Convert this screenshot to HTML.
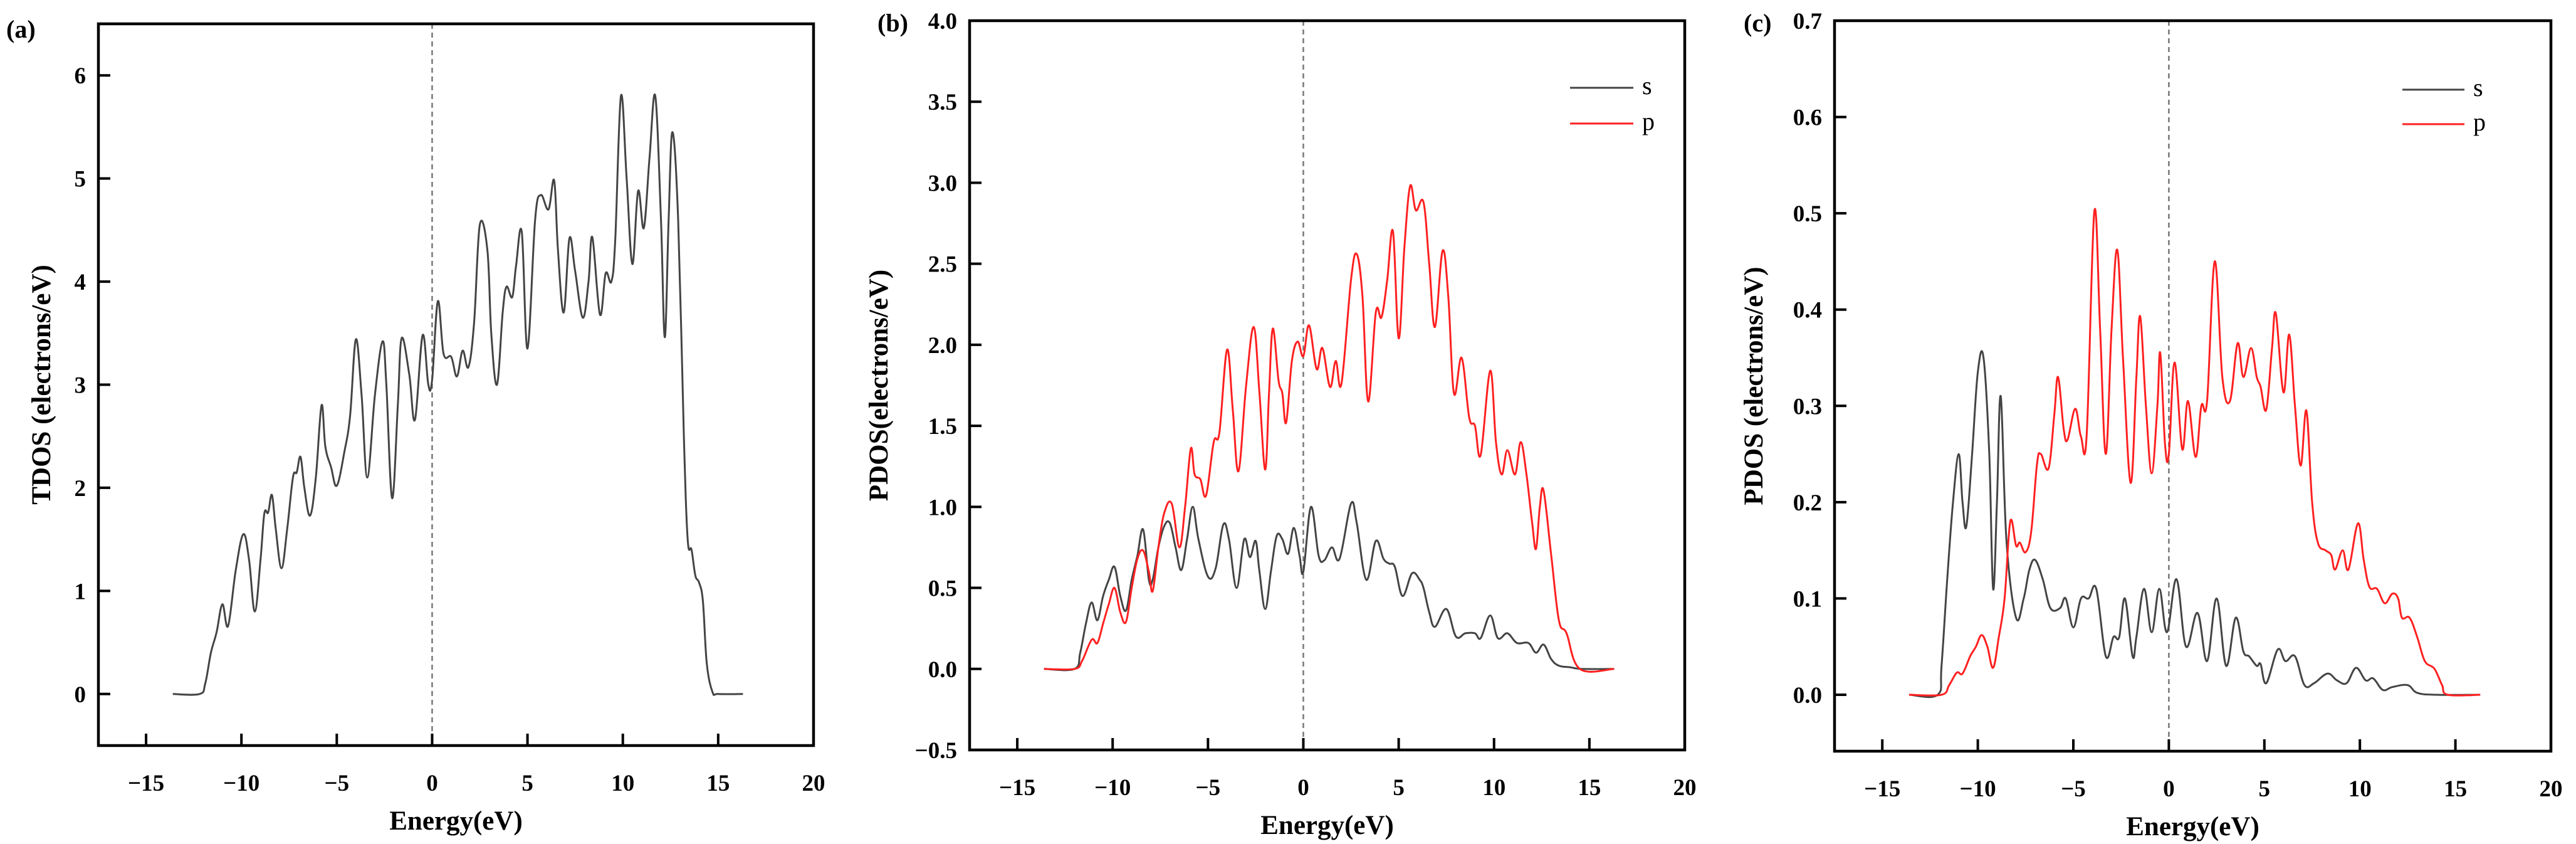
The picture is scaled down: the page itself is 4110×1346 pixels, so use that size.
<!DOCTYPE html>
<html><head><meta charset="utf-8"><style>
html,body{margin:0;padding:0;background:#fff;}
svg{display:block;}
text{font-family:"Liberation Serif",serif;font-weight:bold;fill:#000;}
</style></head><body>
<svg id="fig" width="4110" height="1346" viewBox="0 0 4110 1346" xmlns="http://www.w3.org/2000/svg"></svg>
<script>
// ---- data ----
const xTicks = [-15,-10,-5,0,5,10,15,20];
const yTicksA = [0,1,2,3,4,5,6];
const yTicksB = [-0.5,0.0,0.5,1.0,1.5,2.0,2.5,3.0,3.5,4.0];
const yTicksC = [0.0,0.1,0.2,0.3,0.4,0.5,0.6,0.7];
const legendLabels = ["s","p"];

const tdosE = [-13.6,-12.2,-11.9,-11.6,-11.3,-11.0,-10.7,-10.3,-9.9,-9.6,-9.3,-9.0,-8.8,-8.6,-8.4,-8.2,-7.9,-7.6,-7.3,-7.1,-6.9,-6.7,-6.4,-6.1,-5.8,-5.6,-5.3,-5.0,-4.6,-4.3,-4.0,-3.7,-3.4,-3.0,-2.6,-2.4,-2.1,-1.8,-1.6,-1.2,-0.9,-0.5,-0.2,0.0,0.3,0.6,1.0,1.3,1.6,1.9,2.2,2.5,2.9,3.1,3.4,3.7,3.9,4.2,4.4,4.7,5.0,5.4,5.7,6.1,6.4,6.6,6.9,7.2,7.5,7.9,8.2,8.4,8.8,9.1,9.4,9.6,9.9,10.2,10.5,10.8,11.1,11.4,11.7,12.0,12.2,12.4,12.6,12.9,13.2,13.4,13.6,13.8,14.0,14.2,14.4,14.7,15.0,16.3];
const tdosV = [0,0,0.1,0.4,0.6,0.87,0.66,1.2,1.55,1.3,0.8,1.3,1.75,1.76,1.93,1.6,1.22,1.6,2.1,2.15,2.3,2.0,1.73,2.1,2.8,2.4,2.2,2.02,2.35,2.7,3.44,2.9,2.1,2.9,3.42,3.0,1.9,2.8,3.45,3.1,2.66,3.48,3.0,3.05,3.81,3.3,3.27,3.08,3.33,3.17,3.6,4.55,4.3,3.5,3.0,3.7,3.95,3.85,4.15,4.48,3.35,4.6,4.84,4.7,4.98,4.3,3.7,4.42,4.1,3.65,4.0,4.43,3.68,4.08,4.0,4.4,5.8,5.0,4.17,4.88,4.52,5.2,5.8,4.6,3.46,4.6,5.45,4.6,2.5,1.5,1.4,1.15,1.08,0.9,0.3,0.02,0,0];

const bsE = [-13.6,-12,-11.7,-11.4,-11.1,-10.8,-10.5,-10.2,-9.9,-9.6,-9.3,-9.0,-8.7,-8.4,-8.1,-7.9,-7.6,-7.3,-7.0,-6.7,-6.4,-6.1,-5.8,-5.5,-5.0,-4.6,-4.2,-3.9,-3.5,-3.1,-2.8,-2.5,-2.3,-2.0,-1.7,-1.4,-1.1,-0.8,-0.5,-0.2,0,0.4,0.8,1.1,1.5,1.9,2.5,2.8,3.3,3.8,4.2,4.5,4.8,5.2,5.7,6.1,6.3,6.6,6.9,7.5,8.0,8.5,9.0,9.3,9.8,10.2,10.7,11.2,11.8,12.2,12.6,13.0,13.4,14.0,14.6,16.3];
const bsV = [0,0,0.1,0.28,0.41,0.3,0.45,0.55,0.63,0.45,0.36,0.55,0.7,0.86,0.55,0.55,0.75,0.88,0.9,0.75,0.61,0.8,1.0,0.8,0.57,0.62,0.89,0.8,0.5,0.8,0.69,0.79,0.6,0.37,0.6,0.82,0.8,0.71,0.87,0.7,0.6,1.0,0.7,0.67,0.75,0.68,1.02,0.9,0.55,0.79,0.68,0.65,0.63,0.45,0.59,0.55,0.5,0.35,0.26,0.37,0.2,0.22,0.22,0.19,0.33,0.19,0.22,0.16,0.16,0.1,0.15,0.06,0.02,0.01,0,0];
const bpE = [-13.6,-12,-11.6,-11.1,-10.8,-10.5,-10.2,-9.9,-9.6,-9.3,-9.0,-8.7,-8.4,-8.1,-7.9,-7.6,-7.3,-6.9,-6.5,-6.2,-5.9,-5.7,-5.4,-5.1,-4.7,-4.4,-4.0,-3.7,-3.4,-3.0,-2.6,-2.3,-2.0,-1.8,-1.6,-1.3,-1.1,-0.9,-0.6,-0.3,0,0.3,0.7,1.0,1.4,1.7,2.0,2.5,2.8,3.1,3.4,3.8,4.1,4.4,4.7,5.0,5.3,5.6,5.9,6.3,6.6,6.9,7.3,7.6,7.9,8.3,8.7,9.0,9.3,9.8,10.1,10.4,10.7,11.1,11.4,11.7,12.0,12.2,12.4,12.6,13.0,13.4,13.8,14.5,16.3];
const bpV = [0,0,0.05,0.18,0.16,0.28,0.4,0.5,0.35,0.29,0.5,0.68,0.73,0.6,0.48,0.75,0.96,1.02,0.75,1.0,1.36,1.2,1.17,1.07,1.4,1.46,1.97,1.6,1.22,1.75,2.11,1.7,1.23,1.7,2.1,1.78,1.7,1.52,1.9,2.02,1.93,2.12,1.85,1.98,1.74,1.9,1.76,2.4,2.56,2.3,1.65,2.2,2.17,2.4,2.7,2.04,2.6,2.98,2.83,2.88,2.5,2.11,2.58,2.3,1.7,1.92,1.55,1.5,1.32,1.84,1.4,1.2,1.35,1.2,1.4,1.2,0.9,0.74,1.0,1.1,0.7,0.3,0.22,0,0];

const csE = [-13.6,-12.1,-11.9,-11.6,-11.3,-11.0,-10.8,-10.6,-10.3,-10.0,-9.7,-9.4,-9.2,-9.0,-8.8,-8.5,-8.0,-7.6,-7.3,-7.0,-6.6,-6.2,-5.7,-5.4,-5.0,-4.6,-4.2,-3.8,-3.3,-2.9,-2.6,-2.3,-1.9,-1.7,-1.3,-0.9,-0.5,-0.1,0.4,0.9,1.5,2.0,2.5,3.0,3.5,3.9,4.2,4.6,4.8,5.1,5.7,6.1,6.6,7.1,7.6,8.3,8.8,9.3,9.8,10.3,10.7,11.2,11.7,12.5,13.0,14.0,16.3];
const csV = [0,0,0.03,0.12,0.2,0.25,0.2,0.175,0.25,0.335,0.35,0.25,0.11,0.2,0.31,0.16,0.08,0.1,0.13,0.14,0.12,0.09,0.09,0.1,0.07,0.1,0.1,0.11,0.04,0.06,0.06,0.1,0.04,0.06,0.11,0.065,0.11,0.065,0.12,0.05,0.085,0.035,0.1,0.03,0.08,0.045,0.04,0.03,0.032,0.012,0.047,0.035,0.04,0.01,0.012,0.022,0.015,0.012,0.028,0.015,0.017,0.005,0.008,0.01,0.002,0,0];
const cpE = [-13.6,-11.9,-11.5,-11.1,-10.8,-10.4,-10.1,-9.8,-9.5,-9.2,-8.9,-8.6,-8.3,-8.0,-7.8,-7.5,-7.2,-6.9,-6.7,-6.3,-6.0,-5.8,-5.5,-5.3,-4.9,-4.6,-4.3,-3.9,-3.6,-3.3,-3.0,-2.7,-2.4,-2.0,-1.7,-1.5,-1.2,-0.9,-0.6,-0.45,-0.2,0,0.3,0.7,1.0,1.4,1.7,2.0,2.4,2.8,3.2,3.6,3.9,4.3,4.6,4.8,5.1,5.4,5.6,6.0,6.3,6.6,6.9,7.2,7.5,7.8,8.2,8.5,8.7,9.1,9.4,9.9,10.2,10.5,10.9,11.3,11.7,12.0,12.2,12.6,13.0,13.4,13.9,14.3,14.6,16.3];
const cpV = [0,0,0.01,0.023,0.022,0.04,0.05,0.062,0.05,0.028,0.06,0.1,0.18,0.155,0.158,0.148,0.17,0.24,0.25,0.235,0.29,0.33,0.275,0.265,0.297,0.268,0.27,0.502,0.38,0.25,0.38,0.462,0.35,0.22,0.33,0.393,0.3,0.23,0.3,0.355,0.26,0.25,0.345,0.255,0.305,0.247,0.3,0.305,0.45,0.33,0.305,0.365,0.33,0.36,0.33,0.32,0.296,0.36,0.396,0.314,0.374,0.3,0.238,0.295,0.2,0.158,0.15,0.145,0.13,0.15,0.13,0.178,0.14,0.112,0.11,0.095,0.105,0.1,0.08,0.08,0.06,0.035,0.027,0.01,0,0];

// ---- drawing ----
const NS = "http://www.w3.org/2000/svg";
const svg = document.getElementById('fig');
function mk(tag, attrs, parent){
  const e = document.createElementNS(NS, tag);
  for (const k in attrs) e.setAttribute(k, attrs[k]);
  (parent||svg).appendChild(e);
  return e;
}
function smoothPath(px){
  let d = "M"+px[0][0].toFixed(1)+","+px[0][1].toFixed(1);
  const t = 0.18;
  for (let i=0;i<px.length-1;i++){
    const p0 = px[Math.max(0,i-1)], p1 = px[i], p2 = px[i+1], p3 = px[Math.min(px.length-1,i+2)];
    const c1x = p1[0]+(p2[0]-p0[0])*t, c1y = p1[1]+(p2[1]-p0[1])*t;
    const c2x = p2[0]-(p3[0]-p1[0])*t, c2y = p2[1]-(p3[1]-p1[1])*t;
    d += " C"+c1x.toFixed(1)+","+c1y.toFixed(1)+" "+c2x.toFixed(1)+","+c2y.toFixed(1)+" "+p2[0].toFixed(1)+","+p2[1].toFixed(1);
  }
  return d;
}
function panel(cfg){
  const g = mk('g', {});
  
  
  const L=cfg.L, R=cfg.R, T=cfg.T, B=cfg.B;
  const xs = v => L + (v - (-17.5)) / 37.5 * (R-L);
  const ys = v => B - (v - cfg.ymin) / (cfg.ymax - cfg.ymin) * (B-T);
  const z = mk('line', {x1:xs(0),x2:xs(0),y1:T,y2:B,stroke:'#777','stroke-width':2.5,'stroke-dasharray':'8,6'}, g);
  
  
  cfg.series.forEach(s=>{
    const pts = s.e.map((e,i)=>[xs(e), ys(s.v[i])]);
    const p = mk('path', {d:smoothPath(pts), fill:'none', stroke:s.color, 'stroke-width':3, 'stroke-linejoin':'round'}, g);
    
    
  });
  const fr = mk('rect', {x:L,y:T,width:R-L,height:B-T,fill:'none',stroke:'#000','stroke-width':4.5}, g);
  
  
  xTicks.forEach(v=>{
    const x = xs(v);
    if (v < 20) mk('line', {x1:x,x2:x,y1:B,y2:B-19,stroke:'#000','stroke-width':4}, g);
    const t = mk('text', {x:x, y:B+72, 'font-size':37, 'text-anchor':'middle'}, g);
    t.textContent = (v<0 ? '\u2212'+(-v) : ''+v);
    
    
  });
  cfg.yticks.forEach(v=>{
    const y = ys(v);
    mk('line', {x1:L,x2:L+19,y1:y,y2:y,stroke:'#000','stroke-width':4}, g);
    const t = mk('text', {x:L-20, y:y+13, 'font-size':37, 'text-anchor':'end'}, g);
    t.textContent = (v<0 ? '\u2212'+(-v).toFixed(cfg.dec) : v.toFixed(cfg.dec));
    
    
  });
  const xt = mk('text', {x:(L+R)/2, y:B+134, 'font-size':43, 'text-anchor':'middle'}, g);
  xt.textContent = 'Energy(eV)';
  
  
  const yt = mk('text', {x:0, y:0, 'font-size':43, 'text-anchor':'middle', transform:'translate('+cfg.ytx+','+((T+B)/2)+') rotate(-90)'}, g);
  yt.textContent = cfg.ytitle;
  
  
  const pl = mk('text', {x:cfg.plx, y:cfg.ply, 'font-size':40}, g);
  pl.textContent = cfg.label;
  
  
  if (cfg.legend){
    const lg = cfg.legend;
    [['#444',lg.y1,legendLabels[0]],['#ff2020',lg.y2,legendLabels[1]]].forEach(([c,y,lab])=>{
      const l = mk('line', {x1:lg.x1,x2:lg.x2,y1:y,y2:y,stroke:c,'stroke-width':3}, g);
      
      
      const t = mk('text', {x:lg.x2+14, y:y+10, 'font-size':40}, g);
      t.setAttribute('style','font-weight:normal');
      t.textContent = lab;
      
      
    });
  }
}
panel({name:'panel-a-tdos', L:157, R:1298, T:38, B:1189, ymin:-0.5, ymax:6.5, yticks:yTicksA, dec:0,
  ytitle:'TDOS (electrons/eV)', ytx:80, label:'(a)', plx:10, ply:60,
  series:[{name:'tdos-line', e:tdosE, v:tdosV, color:'#444'}]});
panel({name:'panel-b-pdos', L:1547, R:2688, T:33, B:1196, ymin:-0.5, ymax:4.0, yticks:yTicksB, dec:1,
  ytitle:'PDOS(electrons/eV)', ytx:1416, label:'(b)', plx:1400, ply:50,
  legend:{x1:2505,x2:2606,y1:140,y2:197},
  series:[{name:'s-orbital-line', e:bsE, v:bsV, color:'#444'},{name:'p-orbital-line', e:bpE, v:bpV, color:'#ff2020'}]});
panel({name:'panel-c-pdos', L:2927, R:4070, T:33, B:1198, ymin:-0.0586, ymax:0.7, yticks:yTicksC, dec:1,
  ytitle:'PDOS (electrons/eV)', ytx:2812, label:'(c)', plx:2782, ply:50,
  legend:{x1:3833,x2:3932,y1:143,y2:198},
  series:[{name:'s-orbital-line', e:csE, v:csV, color:'#444'},{name:'p-orbital-line', e:cpE, v:cpV, color:'#ff2020'}]});
</script>
</body></html>
